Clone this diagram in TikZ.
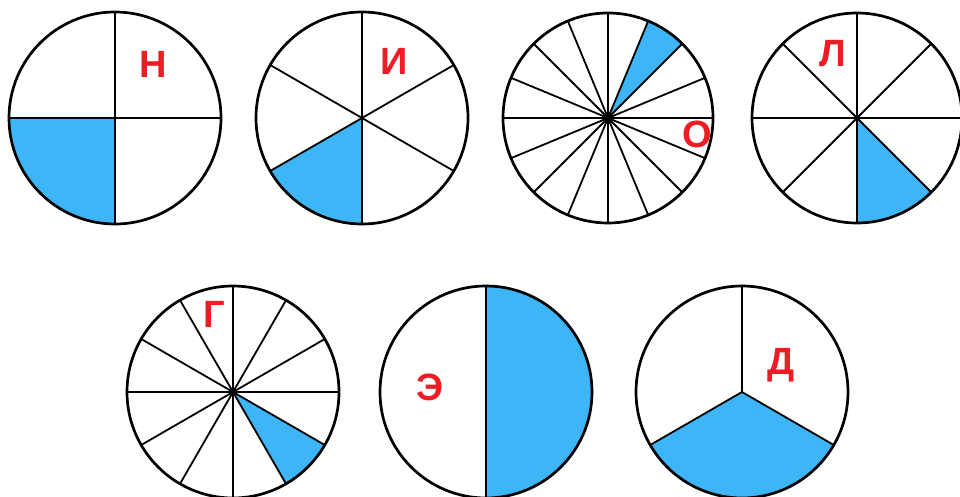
\documentclass[tikz,border=0pt]{standalone}
\usepackage{fontspec}
\setmainfont{Liberation Sans}
\definecolor{pieblue}{RGB}{62,181,246}
\definecolor{lettred}{RGB}{238,28,36}
\tikzset{
  rim/.style={line width=2.7pt},
  spoke/.style={line width=1.8pt},
  hub/.style={fill=black},
  shade/.style={fill=pieblue},
  letter/.style={text=lettred, font=\fontsize{38}{38}\selectfont\bfseries, anchor=base, inner sep=0pt}
}
\begin{document}
\begin{tikzpicture}[x=1pt,y=1pt]
\useasboundingbox (0,0) rectangle (960,496);
\fill[white] (0,0) rectangle (960,496);

% Pie 1 (quarters)
\fill[shade] (115,378) -- ++(180:106) arc[start angle=180,end angle=270,radius=106] -- cycle;
\foreach \a in {0,90,...,270} \draw[spoke] (115,378) -- ++(\a:106);
\draw[rim] (115,378) circle[radius=106];
\node[letter] (n1) at (153,418) {Н};

% Pie 2 (sixths)
\fill[shade] (362,378) -- ++(210:106) arc[start angle=210,end angle=270,radius=106] -- cycle;
\foreach \a in {30,90,...,330} \draw[spoke] (362,378) -- ++(\a:106);
\draw[rim] (362,378) circle[radius=106];
\node[letter] (n2) at (394,421) {И};

% Pie 3 (sixteenths)
\fill[shade] (608,378) -- ++(45:105) arc[start angle=45,end angle=67.5,radius=105] -- cycle;
\foreach \a in {0,22.5,...,337.5} \draw[spoke] (608,378) -- ++(\a:105);
\fill[hub] (608,378) circle[radius=3.5];
\draw[rim] (608,378) circle[radius=105];
\node[letter] (n3) at (697,348) {О};

% Pie 4 (eighths)
\fill[shade] (857,378) -- ++(270:105) arc[start angle=270,end angle=315,radius=105] -- cycle;
\foreach \a in {0,45,...,315} \draw[spoke] (857,378) -- ++(\a:105);
\fill[hub] (857,378) circle[radius=3];
\draw[rim] (857,378) circle[radius=105];
\node[letter] (n4) at (833,429) {Л};

% Pie 5 (twelfths)
\fill[shade] (233,104) -- ++(300:106) arc[start angle=300,end angle=330,radius=106] -- cycle;
\foreach \a in {0,30,...,330} \draw[spoke] (233,104) -- ++(\a:106);
\fill[hub] (233,104) circle[radius=3.5];
\draw[rim] (233,104) circle[radius=106];
\node[letter] (n5) at (214,169) {Г};

% Pie 6 (halves)
\fill[shade] (486,104) -- ++(-90:106) arc[start angle=-90,end angle=90,radius=106] -- cycle;
\draw[spoke] (486,104) ++(90:106) -- ++(0,-212);
\draw[rim] (486,104) circle[radius=106];
\node[letter] (n6) at (430,96) {Э};

% Pie 7 (thirds)
\fill[shade] (742,104) -- ++(210:106) arc[start angle=210,end angle=330,radius=106] -- cycle;
\foreach \a in {90,210,330} \draw[spoke] (742,104) -- ++(\a:106);
\draw[rim] (742,104) circle[radius=106];
\node[letter] (n7) at (781,122) {Д};
\end{tikzpicture}
\end{document}
